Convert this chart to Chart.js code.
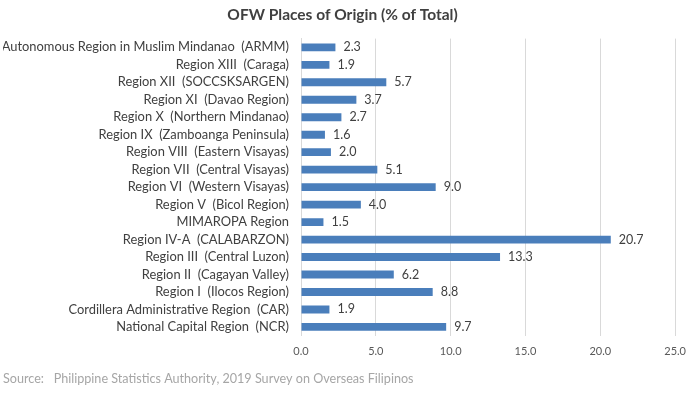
<!DOCTYPE html>
<html>
<head>
<meta charset="utf-8">
<script src="https://cdn.jsdelivr.net/npm/chart.js@4"></script>
<style>
  html, body { margin: 0; padding: 0; background: #ffffff; }
  #wrap { width: 695px; height: 394px; }
</style>
</head>
<body>
<div id="wrap"><canvas id="chart"></canvas></div>
<script>
// ========== DADOS ==========
const regions = [
  "Autonomous Region in Muslim Mindanao  (ARMM)",
  "Region XIII  (Caraga)",
  "Region XII  (SOCCSKSARGEN)",
  "Region XI  (Davao Region)",
  "Region X  (Northern Mindanao)",
  "Region IX  (Zamboanga Peninsula)",
  "Region VIII  (Eastern Visayas)",
  "Region VII  (Central Visayas)",
  "Region VI  (Western Visayas)",
  "Region V  (Bicol Region)",
  "MIMAROPA Region",
  "Region IV-A  (CALABARZON)",
  "Region III  (Central Luzon)",
  "Region II  (Cagayan Valley)",
  "Region I  (Ilocos Region)",
  "Cordillera Administrative Region  (CAR)",
  "National Capital Region  (NCR)",
];
const shares = [2.3, 1.9, 5.7, 3.7, 2.7, 1.6, 2.0, 5.1, 9.0, 4.0, 1.5, 20.7, 13.3, 6.2, 8.8, 1.9, 9.7];
const xTicks = [0, 5, 10, 15, 20, 25];

const titleText = "OFW Places of Origin (% of Total)";
const sourceText = "Source:   Philippine Statistics Authority, 2019 Survey on Overseas Filipinos";

const FONT = "Lato, 'Open Sans', sans-serif";

// rótulos de valor no fim de cada barra
const valueLabels = {
  id: "valueLabels",
  afterDatasetsDraw(chart) {
    const ctx = chart.ctx;
    const meta = chart.getDatasetMeta(0);
    ctx.save();
    ctx.font = "12.5px " + FONT;
    ctx.fillStyle = "#404040";
    ctx.textAlign = "left";
    ctx.textBaseline = "middle";
    meta.data.forEach((bar, i) => {
      ctx.fillText(shares[i].toFixed(1), bar.x + 8, bar.y);
    });
    ctx.restore();
  },
};

new Chart(document.getElementById("chart").getContext("2d"), {
  type: "bar",
  data: {
    labels: regions,
    datasets: [
      {
        data: shares,
        backgroundColor: "#4a7ebb",
        barPercentage: 0.45,
        categoryPercentage: 1.0,
      },
    ],
  },
  options: {
    indexAxis: "y",
    responsive: true,
    maintainAspectRatio: false,
    animation: false,
    layout: { padding: { left: 3, right: 13, top: 6, bottom: 4 } },
    plugins: {
      legend: { display: false },
      tooltip: { enabled: false },
      title: {
        display: true,
        text: titleText,
        color: "#404040",
        font: { family: FONT, size: 15.5, weight: "bold" },
        padding: { top: 0, bottom: 14 },
      },
      subtitle: {
        display: true,
        position: "bottom",
        align: "start",
        text: sourceText,
        color: "#a6a6a6",
        font: { family: FONT, size: 12.6 },
        padding: { top: 4, bottom: 4 },
      },
    },
    scales: {
      x: {
        min: 0,
        max: 25,
        afterBuildTicks: (scale) => {
          scale.ticks = xTicks.map((v) => ({ value: v }));
        },
        grid: { color: "#d9d9d9", drawTicks: false },
        border: { display: false },
        ticks: {
          color: "#595959",
          font: { family: FONT, size: 11 },
          padding: 9,
          callback: (v) => v.toFixed(1),
        },
      },
      y: {
        afterFit: (scale) => {
          scale.width = 298;
        },
        grid: { display: false, drawTicks: false },
        border: { display: true, color: "#d9d9d9" },
        ticks: {
          color: "#404040",
          font: { family: FONT, size: 12.9 },
          padding: 12,
          autoSkip: false,
        },
      },
    },
  },
  plugins: [valueLabels],
});
</script>
</body>
</html>
